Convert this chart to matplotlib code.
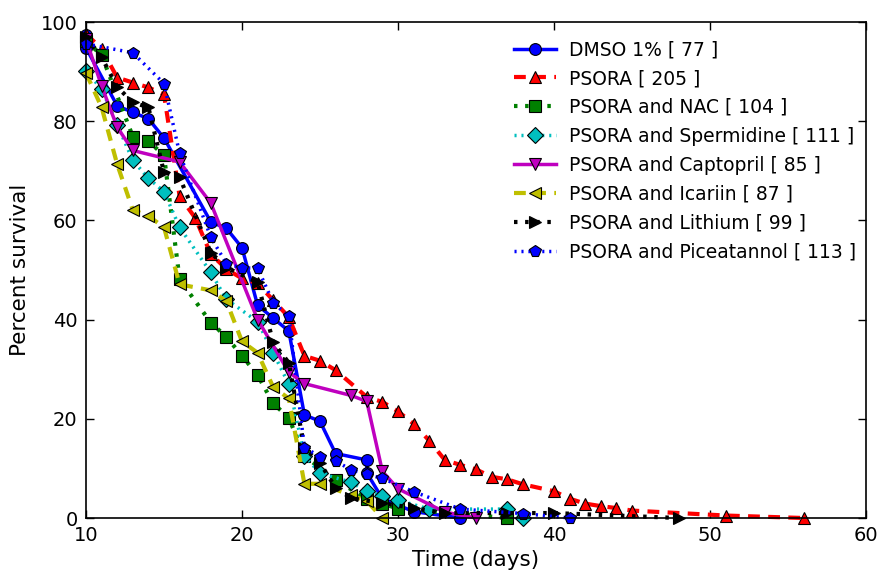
import matplotlib
matplotlib.use('Agg')
import matplotlib.pyplot as plt

# survival curves (time in days, percent survival)
dmso_x = [10, 10, 12, 13, 14, 15, 18, 19, 20, 21, 22, 23, 24, 25, 26, 28, 28, 29, 30, 31, 34]
dmso_y = [97.4, 94.8, 83.1, 81.8, 80.5, 76.6, 59.7, 58.4, 54.5, 42.9, 40.3, 37.7, 20.8, 19.5, 13.0, 11.7, 9.1, 3.9, 2.6, 1.3, 0.0]

psora_x = [10, 11, 12, 13, 14, 15, 16, 17, 18, 19, 20, 21, 22, 23, 24, 25, 26, 28, 29, 30, 31,
           32, 33, 34, 35, 36, 37, 38, 40, 41, 42, 43, 44, 45, 51, 56]
psora_y = [97.6, 94.6, 88.8, 87.8, 86.8, 85.4, 64.9, 60.5, 53.2, 50.2, 48.3, 47.3, 43.9, 40.5, 32.7,
           31.7, 29.8, 24.4, 23.4, 21.5, 19.0, 15.6, 11.7, 10.7, 9.8, 8.3, 7.8, 6.8, 5.4, 3.9, 2.9,
           2.4, 2.0, 1.5, 0.5, 0.0]

nac_x = [10, 11, 13, 14, 15, 16, 18, 19, 20, 21, 22, 23, 24, 26, 28, 29, 30, 37]
nac_y = [96.2, 93.3, 76.9, 76.0, 73.1, 48.1, 39.4, 36.5, 32.7, 28.8, 23.1, 20.2, 12.5, 7.7, 3.8, 2.9, 1.9, 0.0]

sperm_x = [10, 11, 12, 13, 14, 15, 16, 18, 19, 21, 22, 23, 24, 25, 27, 28, 29, 30, 32, 37, 38]
sperm_y = [90.1, 86.5, 79.3, 72.1, 68.5, 65.8, 58.6, 49.5, 44.1, 39.6, 33.3, 27.0, 12.6, 9.0, 7.2,
           5.4, 4.5, 3.6, 1.8, 1.8, 0.0]

capto_x = [10, 11, 12, 13, 16, 18, 21, 23, 24, 27, 28, 29, 30, 33, 35]
capto_y = [96.5, 87.1, 78.8, 74.1, 71.8, 63.5, 40.0, 29.4, 27.1, 24.7, 23.5, 9.4, 5.9, 1.2, 0.0]

icar_x = [10, 11, 12, 13, 14, 15, 16, 18, 19, 20, 21, 22, 23, 24, 25, 27, 28, 29]
icar_y = [89.7, 82.8, 71.3, 62.1, 60.9, 58.6, 47.1, 45.9, 43.7, 35.6, 33.3, 26.4, 24.1, 6.9, 6.9,
          4.6, 3.4, 0.0]

lith_x = [10, 11, 12, 13, 14, 15, 16, 18, 19, 21, 22, 23, 24, 25, 26, 27, 29, 31, 33, 37, 40, 48]
lith_y = [97.0, 92.9, 86.9, 83.8, 82.8, 69.7, 68.7, 53.5, 50.5, 47.5, 35.4, 31.3, 14.1, 11.1, 6.1,
          4.0, 3.0, 2.0, 1.0, 1.0, 1.0, 0.0]

picea_x = [10, 13, 15, 16, 18, 19, 20, 21, 22, 23, 24, 25, 26, 27, 28, 29, 31, 34, 38, 41]
picea_y = [95.6, 93.8, 87.6, 73.5, 56.6, 51.3, 50.4, 50.4, 43.4, 40.7, 14.2, 12.4, 11.5, 9.7, 8.8,
           8.0, 5.3, 1.8, 0.9, 0.0]

labels = ['DMSO 1% [ 77 ]', 'PSORA [ 205 ]', 'PSORA and NAC [ 104 ]',
          'PSORA and Spermidine [ 111 ]', 'PSORA and Captopril [ 85 ]',
          'PSORA and Icariin [ 87 ]', 'PSORA and Lithium [ 99 ]',
          'PSORA and Piceatannol [ 113 ]']

plt.rcParams['lines.scale_dashes'] = False
plt.rcParams['font.size'] = 13

fig = plt.figure(figsize=(8.84, 5.72), dpi=100)
ax = fig.add_axes([0.0973, 0.0944, 0.8823, 0.8671])

ms = 8.5
kw = dict(markeredgecolor='k', markeredgewidth=0.8, markersize=ms, clip_on=False)

ax.plot(dmso_x, dmso_y, color='b', ls='-', lw=2.5, marker='o', label=labels[0], **kw)
ax.plot(psora_x, psora_y, color='r', lw=3, dashes=(8.5, 6), marker='^', label=labels[1], **kw)
ax.plot(nac_x, nac_y, color='g', lw=3, dashes=(2.5, 5.5), marker='s', label=labels[2], **kw)
ax.plot(sperm_x, sperm_y, color='c', lw=2.5, dashes=(1.5, 3.5), marker='D', label=labels[3], **kw)
ax.plot(capto_x, capto_y, color='m', ls='-', lw=2.5, marker='v', label=labels[4], **kw)
ax.plot(icar_x, icar_y, color='y', lw=3, dashes=(8.5, 6), marker='<', label=labels[5], **kw)
ax.plot(lith_x, lith_y, color='k', lw=3, dashes=(2.5, 5.5), marker='>', label=labels[6], **kw)
ax.plot(picea_x, picea_y, color='b', lw=2.5, dashes=(1.5, 3.5), marker='p', label=labels[7], **kw)

ax.set_xlim(10, 60)
ax.set_ylim(0, 100)
ax.set_xticks([10, 20, 30, 40, 50, 60])
ax.set_yticks([0, 20, 40, 60, 80, 100])
ax.tick_params(direction='in', top=True, right=True, length=6, width=1, labelsize=14, pad=6)
for s in ax.spines.values():
    s.set_linewidth(1.2)

ax.set_xlabel('Time (days)', fontsize=15.5, labelpad=3)
ax.set_ylabel('Percent survival', fontsize=15.5, labelpad=8)

ax.legend(loc='upper right', bbox_to_anchor=(1.004, 0.99), frameon=False, numpoints=1,
          fontsize=13.5, handlelength=2.2, handletextpad=0.7, labelspacing=0.53,
          borderaxespad=0.3)

fig.savefig('out.png', dpi=100)
